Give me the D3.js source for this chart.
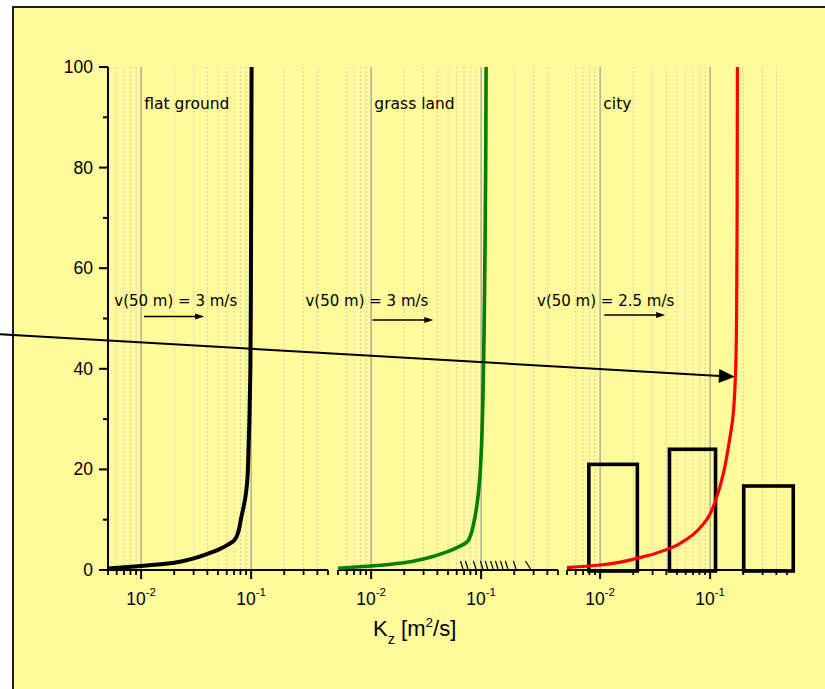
<!DOCTYPE html>
<html>
<head>
<meta charset="utf-8">
<script src="https://cdn.jsdelivr.net/npm/d3@7/dist/d3.min.js"></script>
<style>
  body { margin: 0; background: #ffffff; }
  svg { display: block; }
</style>
</head>
<body>
<svg id="chart" width="825" height="689"></svg>
<script>
// ---- data -------------------------------------------------------------
const panelNames = ["flat ground", "grass land", "city"];
const windLabels = ["v(50 m) = 3 m/s", "v(50 m) = 3 m/s", "v(50 m) = 2.5 m/s"];

// Kz profiles (Kz in m²/s, z in m)
const flatKz  = [0.005, 0.01, 0.02, 0.03, 0.04, 0.05, 0.06, 0.0708, 0.0765, 0.0806, 0.0889, 0.0924, 0.095, 0.0965, 0.0985, 0.0995, 0.1, 0.101];
const flatZ   = [0.3,   0.8,  1.45, 2.3,  3.2,  4.0,  4.9,  6.0,    7.6,    10,     14.6,   17.9,   25,    30,     40,     55,     70,  100];
const grassKz = [0.005, 0.01, 0.02, 0.03, 0.049, 0.065, 0.0746, 0.0805, 0.0857, 0.093, 0.097, 0.101, 0.104, 0.106, 0.108, 0.11, 0.111];
const grassZ  = [0.35,  0.8,  1.45, 2.2,  3.6,   4.8,   5.6,    7.0,    9.3,    14,    18,    25,    35,    45,    60,    80,   100];
const cityKz  = [0.005, 0.01, 0.0215, 0.0433, 0.0658, 0.093, 0.115, 0.132, 0.15, 0.16, 0.17, 0.174, 0.176, 0.177];
const cityZ   = [0.46,  1.0,  2.3,    4.3,    6.6,    10,    14.6,  19.2,  25.8, 29.8, 38.8, 50,    70,    100];

// buildings drawn in the city panel: Kz extent and height (m)
const buildingKzLeft  = [0.0079, 0.0427, 0.202];
const buildingKzRight = [0.0218, 0.112,  0.57];
const buildingHeight  = [21, 24, 16.7];

// grass blades in the grass-land panel (Kz position)
const grassBladeKz = [0.0649, 0.072, 0.0851, 0.0986, 0.109, 0.122, 0.135, 0.150, 0.166, 0.197, 0.253];

// wind arrows at 50 m (Kz start/end per panel)
const windArrowKzStart = [0.0106, 0.0103, 0.0109];
const windArrowKzEnd   = [0.0374, 0.0368, 0.039];
const windArrowZ       = [50.4, 49.7, 50.7];
const windLabelKz      = [0.0057, 0.00253, 0.00267];
const windLabelZ       = 52.4;

// long arrow from flat-ground panel into the city panel
const longArrowKz = [0.00051, 0.168];
const longArrowZ  = [46.9, 38.4];

const yTicks = [0, 20, 40, 60, 80, 100];
const yMinorTicks = [10, 30, 50, 70, 90];
const xMajorTicks = [0.01, 0.1];
const xMajorExponents = ["-2", "-1"];

// ---- layout -----------------------------------------------------------
const svg = d3.select("#chart");
const plotTop = 67, plotBottom = 570;
const panelLeft = [108, 338, 567];
const panelWidth = 220;
const kzDomain = [0.005, 0.5];
const seriesColors = ["#000000", "#008000", "#ff0000"];
const seriesWidths = [4, 3.6, 3.2];

// frame
svg.append("rect")
  .attr("x", 13).attr("y", 7).attr("width", 900).attr("height", 800)
  .attr("fill", "#fffb9a").attr("stroke", "#1e1e1e").attr("stroke-width", 2);

const y = d3.scaleLinear().domain([0, 100]).range([plotBottom, plotTop]);
const xs = panelLeft.map(l => d3.scaleLog().domain(kzDomain).range([l, l + panelWidth]));

// minor values inside a panel
const minorVals = [];
[0.001, 0.01, 0.1].forEach(dec => {
  for (let m = 1; m <= 9; m++) {
    const v = +(m * dec).toPrecision(3);
    if (v >= kzDomain[0] - 1e-9 && v <= kzDomain[1] + 1e-9 && !xMajorTicks.includes(v)) minorVals.push(v);
  }
});

const gridG = svg.append("g");
xs.forEach(x => {
  gridG.selectAll(null)
    .data(minorVals.filter(v => v > kzDomain[0] && v < kzDomain[1]))
    .join("line")
    .attr("x1", d => x(d)).attr("x2", d => x(d))
    .attr("y1", plotTop).attr("y2", plotBottom)
    .attr("stroke", "#cccccc").attr("stroke-width", 1)
    .attr("stroke-dasharray", "2,2");
  gridG.selectAll(null)
    .data(xMajorTicks)
    .join("line")
    .attr("x1", d => x(d)).attr("x2", d => x(d))
    .attr("y1", plotTop).attr("y2", plotBottom)
    .attr("stroke", "#9c9c9c").attr("stroke-width", 1.2);
});

// buildings
const xc = xs[2];
svg.append("g").selectAll("rect")
  .data(buildingHeight.map((h, i) => ({ l: buildingKzLeft[i], r: buildingKzRight[i], h })))
  .join("rect")
  .attr("x", d => xc(d.l)).attr("width", d => xc(d.r) - xc(d.l))
  .attr("y", d => y(d.h)).attr("height", d => y(-0.2) - y(d.h))
  .attr("fill", "none").attr("stroke", "#000").attr("stroke-width", 3.6);

// grass blades
const xg = xs[1];
svg.append("g").selectAll("line")
  .data(grassBladeKz)
  .join("line")
  .attr("x1", d => xg(d)).attr("y1", y(1.8))
  .attr("x2", (d, i) => xg(d) + (i === grassBladeKz.length - 1 ? 5 : 2.5)).attr("y2", y(0.2))
  .attr("stroke", "#000").attr("stroke-width", 1.2);

// axes
const axisG = svg.append("g");
axisG.append("line")
  .attr("x1", panelLeft[0]).attr("x2", panelLeft[0])
  .attr("y1", y(100)).attr("y2", y(0))
  .attr("stroke", "#000").attr("stroke-width", 2);
axisG.selectAll(null).data(yTicks).join("line")
  .attr("x1", panelLeft[0] - 9).attr("x2", panelLeft[0])
  .attr("y1", d => y(d)).attr("y2", d => y(d))
  .attr("stroke", "#000").attr("stroke-width", 2);
axisG.selectAll(null).data(yMinorTicks).join("line")
  .attr("x1", panelLeft[0] - 5).attr("x2", panelLeft[0])
  .attr("y1", d => y(d)).attr("y2", d => y(d))
  .attr("stroke", "#000").attr("stroke-width", 2);
axisG.selectAll(null).data(yTicks).join("text")
  .attr("x", panelLeft[0] - 15).attr("y", d => y(d) + 6)
  .attr("text-anchor", "end")
  .attr("font-family", "'Liberation Sans', Arial, sans-serif")
  .attr("font-size", 17.5).attr("fill", "#000")
  .text(d => d);

xs.forEach(x => {
  const [a, b] = x.range();
  axisG.append("line")
    .attr("x1", a).attr("x2", b).attr("y1", plotBottom).attr("y2", plotBottom)
    .attr("stroke", "#000").attr("stroke-width", 2);
  axisG.selectAll(null).data(minorVals).join("line")
    .attr("x1", d => x(d)).attr("x2", d => x(d))
    .attr("y1", plotBottom).attr("y2", plotBottom + 5)
    .attr("stroke", "#000").attr("stroke-width", 1.8);
  axisG.selectAll(null).data(xMajorTicks).join("line")
    .attr("x1", d => x(d)).attr("x2", d => x(d))
    .attr("y1", plotBottom).attr("y2", plotBottom + 9)
    .attr("stroke", "#000").attr("stroke-width", 2);
  const lab = axisG.selectAll(null).data(xMajorTicks).join("text")
    .attr("x", d => x(d)).attr("y", 605)
    .attr("text-anchor", "middle")
    .attr("font-family", "'Liberation Sans', Arial, sans-serif")
    .attr("font-size", 17.5).attr("fill", "#000");
  lab.append("tspan").text("10");
  lab.append("tspan").attr("dy", -9).attr("font-size", 11.5).text((d, i) => xMajorExponents[i]);
});

// axis title
const title = svg.append("text")
  .attr("x", 373).attr("y", 636)
  .attr("font-family", "'Liberation Sans', Arial, sans-serif")
  .attr("font-size", 22).attr("fill", "#000");
title.append("tspan").text("K");
title.append("tspan").attr("dy", 8).attr("font-size", 14.5).text("z");
title.append("tspan").attr("dy", -8).text("\u00a0[m");
title.append("tspan").attr("dy", -9).attr("font-size", 13.5).text("2");
title.append("tspan").attr("dy", 9).text("/s]");

// profiles
const profiles = [[flatKz, flatZ], [grassKz, grassZ], [cityKz, cityZ]];
profiles.forEach(([kz, z], i) => {
  const pts = kz.map((k, j) => [xs[i](k), y(z[j])]);
  svg.append("path")
    .attr("d", d3.line().curve(d3.curveMonotoneY)(pts))
    .attr("fill", "none")
    .attr("stroke", seriesColors[i])
    .attr("stroke-width", seriesWidths[i])
    .attr("stroke-linejoin", "round");
});

// annotations
const annFont = "'DejaVu Sans', Verdana, sans-serif";
svg.append("g").selectAll("text").data(panelNames).join("text")
  .attr("x", (d, i) => xs[i](0.0107)).attr("y", y(91.6))
  .attr("font-family", annFont).attr("font-size", 15.5).attr("fill", "#000")
  .text(d => d);
svg.append("g").selectAll("text").data(windLabels).join("text")
  .attr("x", (d, i) => xs[i](windLabelKz[i])).attr("y", y(windLabelZ))
  .attr("font-family", annFont).attr("font-size", 15).attr("fill", "#000")
  .text(d => d);

function arrow(g, x1, y1, x2, y2, len, half, width) {
  const ang = Math.atan2(y2 - y1, x2 - x1);
  const bx = x2 - len * Math.cos(ang), by = y2 - len * Math.sin(ang);
  g.append("line").attr("x1", x1).attr("y1", y1).attr("x2", bx + Math.cos(ang)).attr("y2", by + Math.sin(ang))
    .attr("stroke", "#000").attr("stroke-width", width);
  const px = -Math.sin(ang) * half, py = Math.cos(ang) * half;
  g.append("path")
    .attr("d", `M${x2},${y2}L${bx + px},${by + py}L${bx - px},${by - py}Z`)
    .attr("fill", "#000");
}
const arrG = svg.append("g");
windArrowZ.forEach((z, i) => {
  arrow(arrG, xs[i](windArrowKzStart[i]), y(z), xs[i](windArrowKzEnd[i]), y(z), 9, 3, 1.4);
});
arrow(arrG, xs[0](longArrowKz[0]), y(longArrowZ[0]), xs[2](longArrowKz[1]), y(longArrowZ[1]), 16, 7, 2);
</script>
</body>
</html>
